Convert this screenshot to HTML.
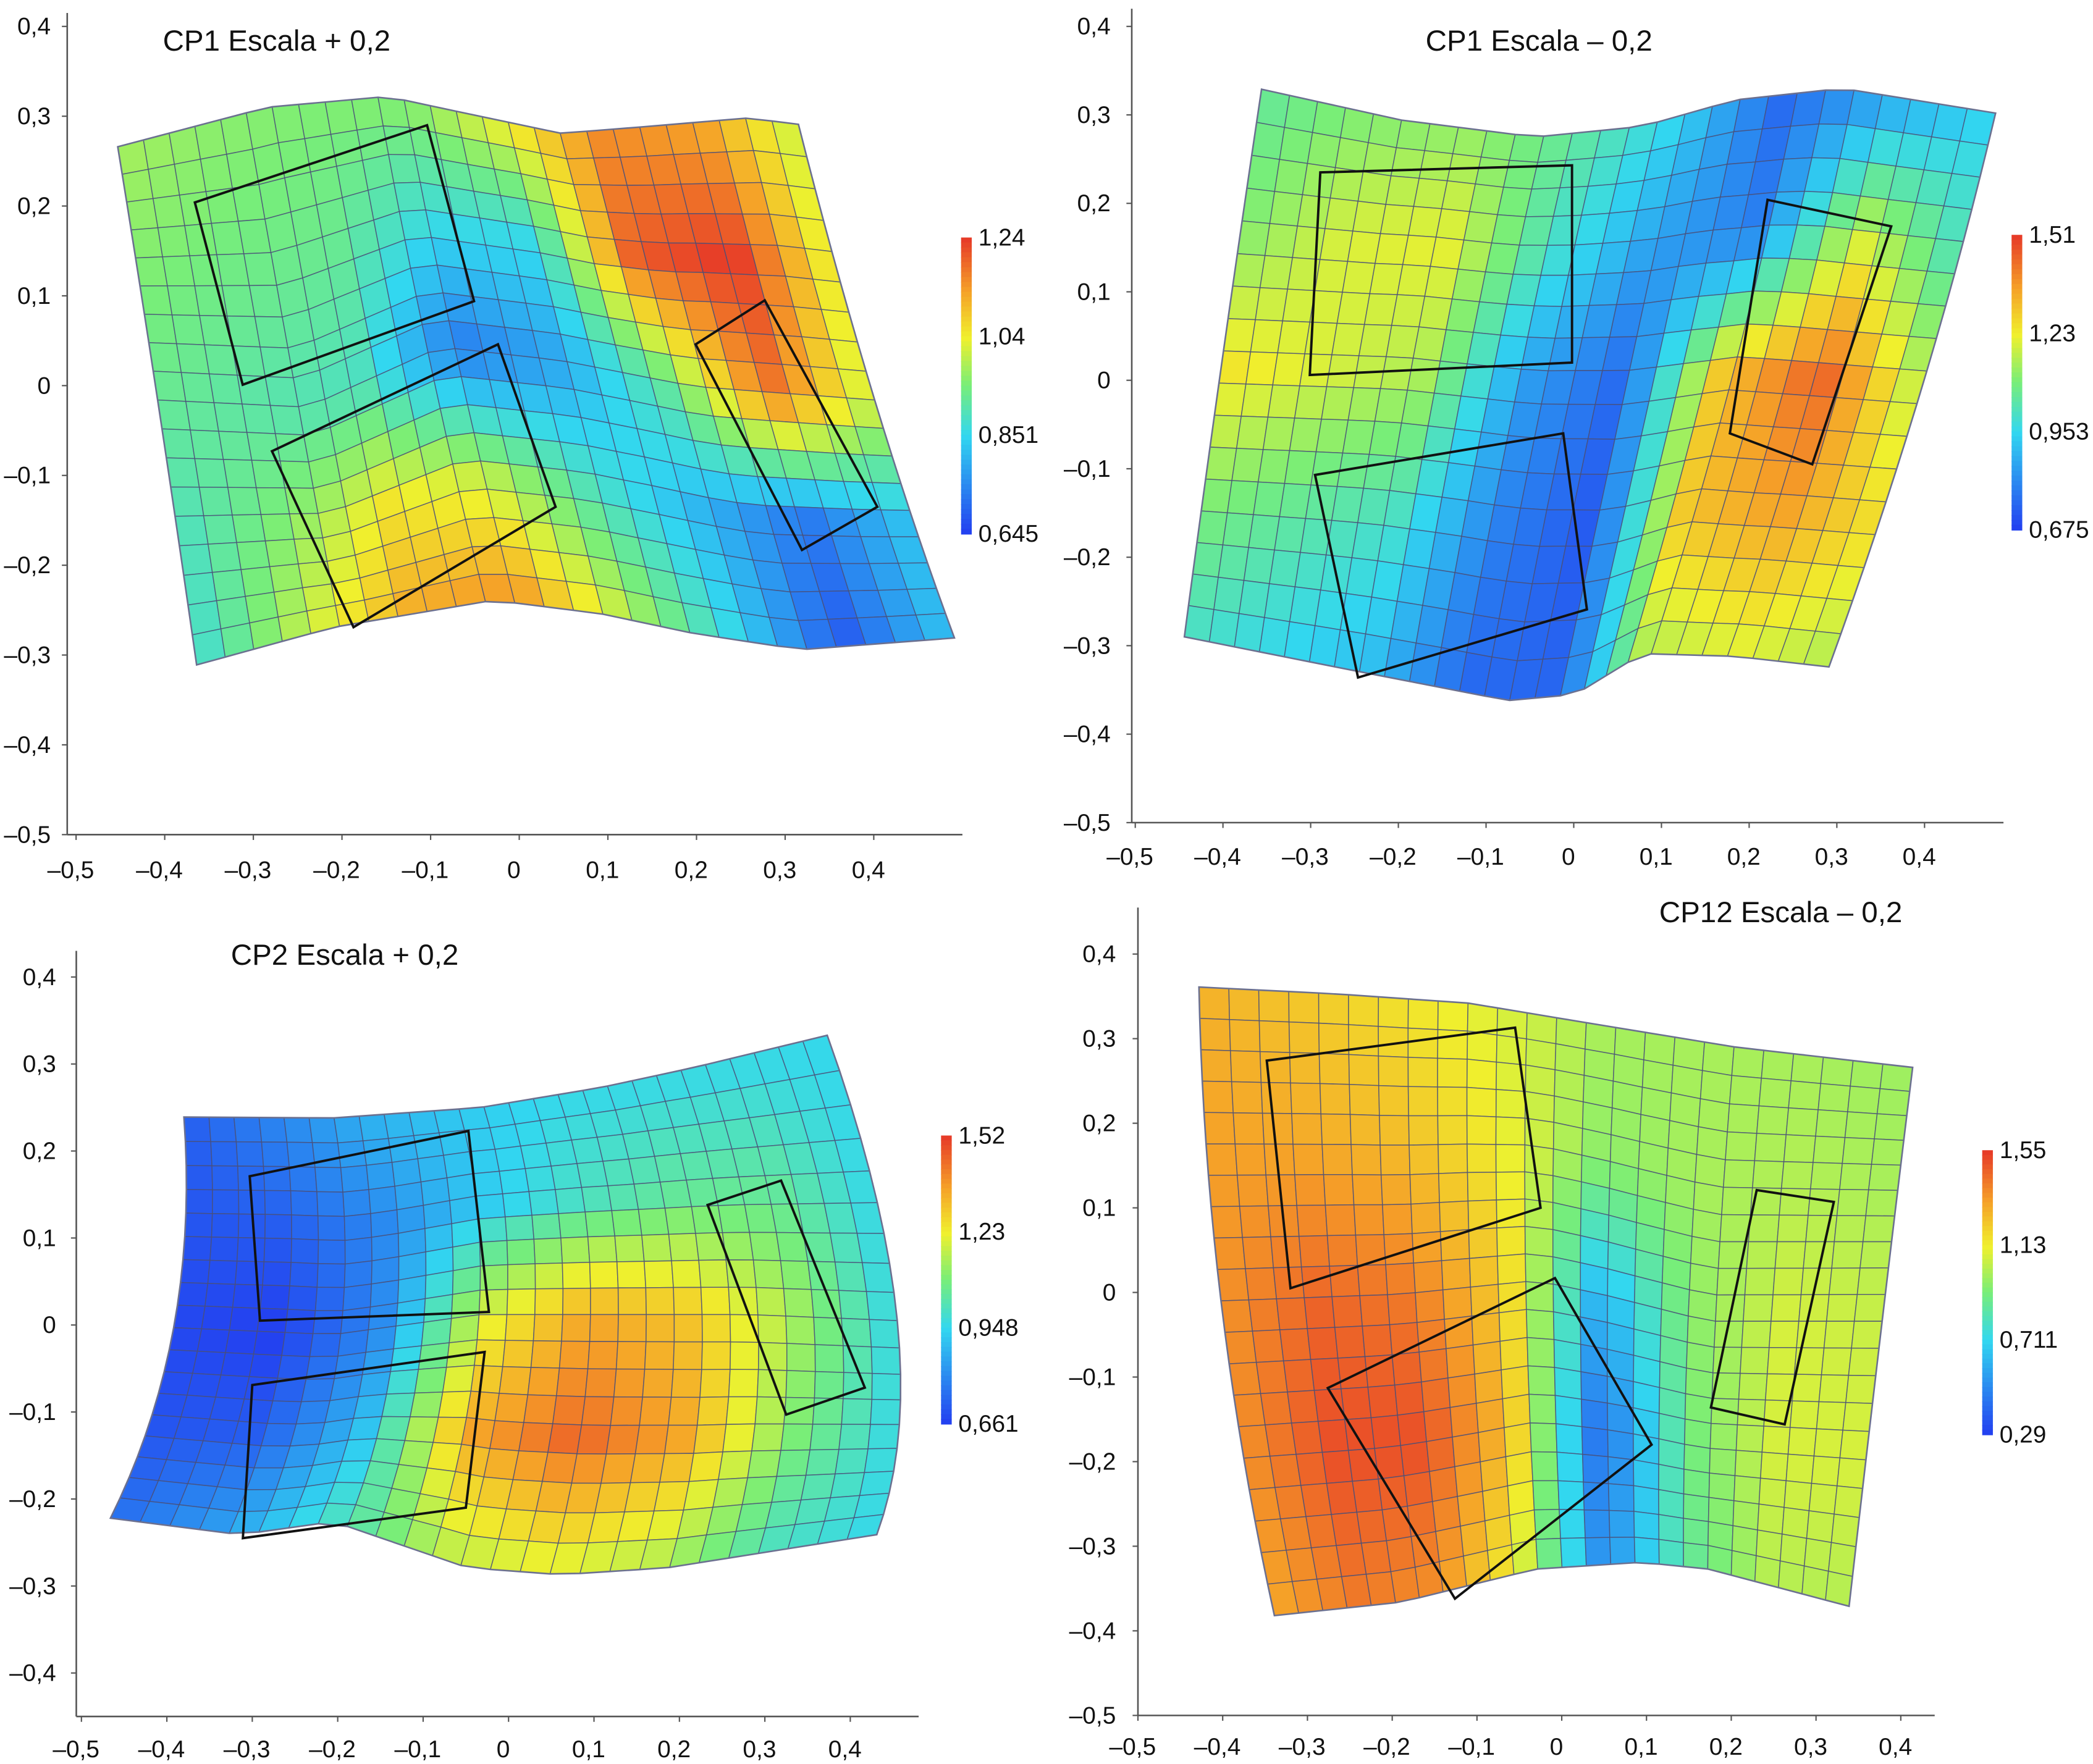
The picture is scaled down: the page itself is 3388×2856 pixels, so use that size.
<!DOCTYPE html>
<html><head><meta charset="utf-8"><style>
html,body{margin:0;padding:0;background:#fff;}
svg{display:block;}
text{font-family:"Liberation Sans",Arial,sans-serif;fill:#111;}
</style></head>
<body>
<svg id="chart" width="3388" height="2856" viewBox="0 0 1568 1322" preserveAspectRatio="none" xmlns="http://www.w3.org/2000/svg"></svg>
<script>
// ---------- Panel 1 data ----------
const p1Title = "CP1 Escala + 0,2";
const p1YTicks = [0.4,0.3,0.2,0.1,0,-0.1,-0.2,-0.3,-0.4,-0.5];
const p1XTicks = [-0.5,-0.4,-0.3,-0.2,-0.1,0,0.1,0.2,0.3,0.4];
const p1CbLabels = ["1,24","1,04","0,851","0,645"];
const p1Range = [0.645,1.24];
const p1Top = [[-0.453,0.266],[-0.284,0.310],[-0.149,0.322],[-0.059,0.303],[0.047,0.281],[0.137,0.288],[0.258,0.298],[0.315,0.291]];
const p1Mid = [[-0.408,-0.016],[-0.239,-0.024],[-0.089,0.043],[0.047,0.028],[0.197,-0.001],[0.401,-0.016]];
const p1Bottom = [[-0.364,-0.311],[-0.209,-0.269],[-0.029,-0.239],[0.092,-0.254],[0.197,-0.276],[0.318,-0.294],[0.491,-0.281]];
const p1Values = [
 [0.98,0.96,0.95,0.96,1.05,1.15,1.12,1.00],
 [0.95,0.93,0.92,0.85,0.85,1.20,1.24,1.02],
 [0.92,0.90,0.88,0.72,0.78,0.92,1.18,1.00],
 [0.88,0.95,1.05,1.00,0.88,0.80,0.72,0.82],
 [0.86,1.00,1.12,1.15,1.00,0.85,0.68,0.82]];
const p1Rects = [
 [[-0.366,0.204],[-0.104,0.290],[-0.051,0.094],[-0.312,0.001]],
 [[-0.279,-0.073],[-0.024,0.046],[0.041,-0.135],[-0.187,-0.269]],
 [[0.199,0.046],[0.277,0.095],[0.404,-0.135],[0.319,-0.183]]];
// ---------- Panel 2 data ----------
const p2Title = "CP1 Escala \u2013 0,2";
const p2YTicks = [0.4,0.3,0.2,0.1,0,-0.1,-0.2,-0.3,-0.4,-0.5];
const p2XTicks = [-0.5,-0.4,-0.3,-0.2,-0.1,0,0.1,0.2,0.3,0.4];
const p2CbLabels = ["1,51","1,23","0,953","0,675"];
const p2Range = [0.675,1.51];
const p2Top = [[-0.356,0.329],[-0.196,0.294],[-0.044,0.275],[0.078,0.287],[0.185,0.317],[0.306,0.330],[0.481,0.302]];
const p2Mid = [[-0.402,0.015],[-0.196,0.008],[-0.044,-0.008],[0.062,-0.008],[0.184,0.008],[0.397,-0.008]];
const p2Bottom = [[-0.444,-0.290],[-0.272,-0.324],[-0.075,-0.362],[0.002,-0.355],[0.078,-0.309],[0.184,-0.312],[0.291,-0.324]];
const p2Values = [
 [1.05,1.10,1.12,1.05,0.95,0.75,0.85,0.95],
 [1.10,1.20,1.22,1.00,0.85,0.80,1.20,1.00],
 [1.25,1.20,1.15,0.85,0.75,1.30,1.45,1.15],
 [1.10,1.05,1.00,0.80,0.72,1.30,1.35,1.25],
 [1.00,0.95,0.90,0.75,0.75,1.15,1.20,1.15]];
const p2Rects = [
 [[-0.289,0.235],[-0.002,0.243],[-0.002,0.020],[-0.301,0.006]],
 [[-0.295,-0.107],[-0.012,-0.060],[0.015,-0.259],[-0.246,-0.336]],
 [[0.221,0.204],[0.362,0.174],[0.272,-0.095],[0.178,-0.060]]];
// ---------- Panel 3 data ----------
const p3Title = "CP2 Escala + 0,2";
const p3YTicks = [0.4,0.3,0.2,0.1,0,-0.1,-0.2,-0.3,-0.4];
const p3XTicks = [-0.5,-0.4,-0.3,-0.2,-0.1,0,0.1,0.2,0.3,0.4];
const p3CbLabels = ["1,52","1,23","0,948","0,661"];
const p3Range = [0.661,1.52];
const p3Top = [[-0.380,0.239],[-0.205,0.238],[-0.033,0.250],[0.108,0.273],[0.217,0.296],[0.373,0.333]];
const p3Mid = [[-0.392,-0.003],[-0.205,-0.011],[-0.033,0.012],[0.108,0.012],[0.280,0.012],[0.455,0.005]];
const p3Bottom = [[-0.466,-0.222],[-0.314,-0.241],[-0.205,-0.226],[-0.048,-0.279],[0.061,-0.287],[0.186,-0.279],[0.431,-0.241]];
const p3Values = [
 [0.72,0.80,0.88,0.92,0.95,0.95,0.95,0.95],
 [0.70,0.72,0.80,0.92,1.00,1.05,1.05,0.95],
 [0.68,0.66,0.80,1.20,1.35,1.30,1.15,0.95],
 [0.70,0.72,0.90,1.35,1.45,1.35,1.10,0.95],
 [0.75,0.85,1.00,1.15,1.20,1.15,1.00,0.95]];
const p3Rects = [
 [[-0.303,0.171],[-0.047,0.223],[-0.023,0.015],[-0.291,0.005]],
 [[-0.300,-0.069],[-0.028,-0.031],[-0.050,-0.210],[-0.311,-0.245]],
 [[0.233,0.138],[0.319,0.166],[0.417,-0.072],[0.325,-0.103]]];
// ---------- Panel 4 data ----------
const p4Title = "CP12 Escala \u2013 0,2";
const p4YTicks = [0.4,0.3,0.2,0.1,0,-0.1,-0.2,-0.3,-0.4,-0.5];
const p4XTicks = [-0.5,-0.4,-0.3,-0.2,-0.1,0,0.1,0.2,0.3,0.4];
const p4CbLabels = ["1,55","1,13","0,711","0,29"];
const p4Range = [0.29,1.55];
const p4Top = [[-0.428,0.361],[-0.268,0.353],[-0.110,0.342],[0.016,0.321],[0.205,0.290],[0.414,0.266]];
const p4Mid = [[-0.402,-0.010],[-0.189,-0.002],[-0.031,0.014],[0.047,-0.002],[0.173,-0.034],[0.378,-0.034]];
const p4Bottom = [[-0.339,-0.382],[-0.189,-0.366],[-0.031,-0.327],[0.094,-0.319],[0.173,-0.327],[0.339,-0.371]];
const p4Values = [
 [1.28,1.22,1.15,1.08,1.00,1.00,1.00,0.98],
 [1.32,1.30,1.25,1.12,0.95,1.00,1.02,1.00],
 [1.35,1.45,1.40,1.20,0.60,0.95,1.08,1.05],
 [1.35,1.50,1.50,1.25,0.40,0.90,1.08,1.08],
 [1.30,1.40,1.35,1.10,0.50,0.85,1.02,1.02]];
const p4Rects = [
 [[-0.348,0.274],[-0.055,0.313],[-0.025,0.100],[-0.320,0.005]],
 [[-0.276,-0.113],[-0.008,0.017],[0.106,-0.180],[-0.126,-0.362]],
 [[0.230,0.121],[0.321,0.107],[0.263,-0.156],[0.176,-0.136]]];

// ---------- layout (pixel frames, not data) ----------
const panels = [
 {id:'p1',title:p1Title,yt:p1YTicks,xt:p1XTicks,cb:p1CbLabels,range:p1Range,top:p1Top,mid:p1Mid,bot:p1Bottom,vals:p1Values,rects:p1Rects,
  x0:389,sx:664,y0:289,sy:673,cols:26,rows:18,axX:-0.51,axY:-0.5,axXmax:0.5,axYmax:0.415,
  ylabR:38,xlabY:658,tx:122,ty:38,cbx:720,cby0:178,cby1:400},
 {id:'p2',title:p2Title,yt:p2YTicks,xt:p2XTicks,cb:p2CbLabels,range:p2Range,top:p2Top,mid:p2Mid,bot:p2Bottom,vals:p2Values,rects:p2Rects,
  x0:1179,sx:657,y0:285,sy:663,cols:26,rows:17,axX:-0.504,axY:-0.5,axXmax:0.49,axYmax:0.42,
  ylabR:832,xlabY:648,tx:1068,ty:38,cbx:1507,cby0:176,cby1:397},
 {id:'p3',title:p3Title,yt:p3YTicks,xt:p3XTicks,cb:p3CbLabels,range:p3Range,top:p3Top,mid:p3Mid,bot:p3Bottom,vals:p3Values,rects:p3Rects,
  x0:381,sx:640,y0:993,sy:652,cols:26,rows:18,axX:-0.506,axY:-0.45,axXmax:0.48,axYmax:0.43,
  ylabR:42,xlabY:1317,tx:173,ty:723,cbx:705,cby0:851,cby1:1067},
 {id:'p4',title:p4Title,yt:p4YTicks,xt:p4XTicks,cb:p4CbLabels,range:p4Range,top:p4Top,mid:p4Mid,bot:p4Bottom,vals:p4Values,rects:p4Rects,
  x0:1170,sx:635,y0:968.6,sy:634,cols:24,rows:20,axX:-0.5,axY:-0.5,axXmax:0.44,axYmax:0.455,
  ylabR:836,xlabY:1315,tx:1243,ty:691,cbx:1485,cby0:862,cby1:1075}
];

const NS='http://www.w3.org/2000/svg';
const svg=document.getElementById('chart');
function mk(tag,attrs,parent){const e=document.createElementNS(NS,tag);for(const k in attrs)e.setAttribute(k,attrs[k]);(parent||svg).appendChild(e);return e;}
const stops=[[0,[35,62,240]],[0.33,[50,215,240]],[0.5,[120,238,120]],[0.66,[240,240,45]],[0.82,[245,160,40]],[1,[230,55,40]]];
function jet(t){t=Math.max(0,Math.min(1,t));for(let i=1;i<stops.length;i++){if(t<=stops[i][0]){const a=stops[i-1],b=stops[i];const f=(t-a[0])/(b[0]-a[0]);const c=a[1].map((v,k)=>Math.round(v+(b[1][k]-v)*f));return `rgb(${c[0]},${c[1]},${c[2]})`;}}return 'rgb(230,55,40)';}
function fmt(v){if(Math.abs(v)<1e-9)return '0';return (v<0?'\u2013':'')+Math.abs(v).toFixed(1).replace('.',',');}
function resample(poly,n){
 const L=[0];for(let i=1;i<poly.length;i++)L.push(L[i-1]+Math.hypot(poly[i][0]-poly[i-1][0],poly[i][1]-poly[i-1][1]));
 const tot=L[L.length-1],out=[];
 for(let k=0;k<=n;k++){const d=tot*k/n;let i=1;while(i<L.length-1&&L[i]<d)i++;const f=(d-L[i-1])/((L[i]-L[i-1])||1);
  out.push([poly[i-1][0]+(poly[i][0]-poly[i-1][0])*f,poly[i-1][1]+(poly[i][1]-poly[i-1][1])*f]);}
 return out;}
function sample(vals,u,v){const R=vals.length-1,C=vals[0].length-1;const x=u*C,y=v*R;const i=Math.min(C-1,Math.floor(x)),j=Math.min(R-1,Math.floor(y));const fx=x-i,fy=y-j;
 return vals[j][i]*(1-fx)*(1-fy)+vals[j][i+1]*fx*(1-fy)+vals[j+1][i]*(1-fx)*fy+vals[j+1][i+1]*fx*fy;}

panels.forEach(p=>{
 const X=x=>p.x0+x*p.sx, Y=y=>p.y0-y*p.sy;
 const g=mk('g',{});
 
 
 const ya=mk('line',{x1:X(p.axX),y1:Y(p.axY),x2:X(p.axX),y2:Y(p.axYmax),stroke:'#555','stroke-width':1.2},g);
 
 
 const xa=mk('line',{x1:X(p.axX),y1:Y(p.axY),x2:X(p.axXmax),y2:Y(p.axY),stroke:'#555','stroke-width':1.2},g);
 
 
 p.yt.forEach(v=>{
  mk('line',{x1:X(p.axX)-4,y1:Y(v),x2:X(p.axX),y2:Y(v),stroke:'#555','stroke-width':1},g);
  const t=mk('text',{x:p.ylabR,y:Y(v)+6,'text-anchor':'end','font-size':18},g);
  t.textContent=fmt(v);
  
  
 });
 p.xt.forEach(v=>{
  mk('line',{x1:X(v),y1:Y(p.axY),x2:X(v),y2:Y(p.axY)+4,stroke:'#555','stroke-width':1},g);
  const t=mk('text',{x:X(v)-4,y:p.xlabY,'text-anchor':'middle','font-size':18},g);
  t.textContent=fmt(v);
  
  
 });
 const top=resample(p.top,p.cols),mid=resample(p.mid,p.cols),bot=resample(p.bot,p.cols);
 const pt=(i,j)=>{const f=j/p.rows;const a=(1-f)*(1-2*f),b=4*f*(1-f),c=f*(2*f-1);
  return [X(top[i][0]*a+mid[i][0]*b+bot[i][0]*c),Y(top[i][1]*a+mid[i][1]*b+bot[i][1]*c)];};
 const mg=mk('g',{},g);
 
 
 for(let i=0;i<p.cols;i++)for(let j=0;j<p.rows;j++){
  const a=pt(i,j),b=pt(i+1,j),c=pt(i+1,j+1),d=pt(i,j+1);
  const v=sample(p.vals,(i+0.5)/p.cols,(j+0.5)/p.rows);
  const col=jet((v-p.range[0])/(p.range[1]-p.range[0]));
  const poly=mk('polygon',{points:[a,b,c,d].map(q=>q[0].toFixed(1)+','+q[1].toFixed(1)).join(' '),fill:col,stroke:'#4a4f78','stroke-width':0.7,'stroke-opacity':0.8},mg);
  
  
 }
 const outline=[];for(let i=0;i<=p.cols;i++)outline.push(pt(i,0));for(let j=0;j<=p.rows;j++)outline.push(pt(p.cols,j));
 for(let i=p.cols;i>=0;i--)outline.push(pt(i,p.rows));for(let j=p.rows;j>=0;j--)outline.push(pt(0,j));
 const ol=mk('polygon',{points:outline.map(q=>q.join(',')).join(' '),fill:'none',stroke:'#6b7090','stroke-width':1.2},g);
 
 
 p.rects.forEach(r=>{
  const pr=mk('polygon',{points:r.map(q=>X(q[0])+','+Y(q[1])).join(' '),fill:'none',stroke:'#111','stroke-width':1.8},g);
  
  
 });
 const tt=mk('text',{x:p.tx,y:p.ty,'font-size':22},g);
 tt.textContent=p.title;
 
 
 const cbg=mk('g',{},g);
 
 
 const N=60,h=(p.cby1-p.cby0)/N;
 for(let k=0;k<N;k++){mk('rect',{x:p.cbx,y:p.cby0+k*h,width:8,height:h+0.6,fill:jet(1-(k+0.5)/N)},cbg);}
 p.cb.forEach((s,k)=>{
  const yy=p.cby0+(p.cby1-p.cby0)*k/(p.cb.length-1);
  const t=mk('text',{x:p.cbx+13,y:yy+6,'font-size':18},cbg);
  t.textContent=s;
  
  
 });
});
</script>
</body></html>
